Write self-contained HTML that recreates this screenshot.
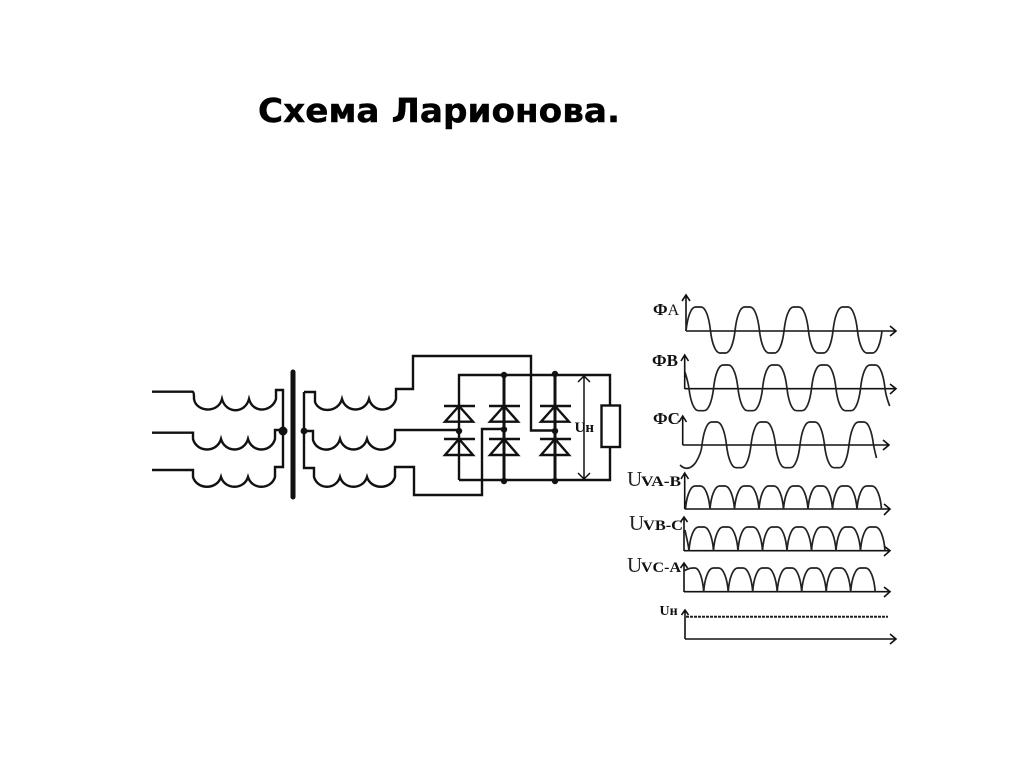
<!DOCTYPE html>
<html><head><meta charset="utf-8"><style>
html,body{margin:0;padding:0;background:#fff;width:1024px;height:767px;overflow:hidden}
svg{display:block}
.t{font-family:"DejaVu Sans","Liberation Sans",sans-serif;font-weight:bold;font-size:32.5px;fill:#000;stroke:#000;stroke-width:.4px}
.s{font-family:"Liberation Serif",serif;font-weight:bold;fill:#111}
.n{font-family:"Liberation Serif",serif;fill:#222}
</style></head><body>
<svg width="1024" height="767" viewBox="0 0 1024 767" xmlns="http://www.w3.org/2000/svg">
<rect width="1024" height="767" fill="#fff"/>
<text class="t" x="258" y="122" textLength="362" lengthAdjust="spacingAndGlyphs">Схема Ларионова.</text>

<g fill="none" stroke="#111" stroke-width="2.4">
<path d="M152 391.700H192.500C194 392 194 396 194 399C196 412 218 414 222 399C226 414 245 414 249 399C253 414 272 412 276 399V390H283V467H275V477C271 490 252 490 248 477C244 490 225 490 221 477C217 490 197 490 193 477V470H152"/>
<path d="M152 432.700H193V439C197 453 217 453 221 439C225 453 244 453 248 439C252 453 271 453 275 439V430H283"/>
<path d="M304 392V468H314V477C318 490 336 490 340 477C344 490 363 490 367 477C371 490 391 490 395 477V467H414V495H482V429H505"/>
<path d="M304 392H315V402C319 413 338 413 342 399C346 413 365 413 369 399C373 413 392 413 396 399V389H413V356H531V430.500H555"/>
<path d="M304 431H313V440C317 453 336 453 340 439C344 453 363 453 367 439C371 453 391 453 395 440V430H460"/>
<path d="M459 480V375H610V405M610 447V480H459"/>
<path d="M504 375V480M555 375V480" stroke-width="3"/>
<rect x="601.500" y="405.500" width="18.500" height="41.500"/>
<path d="M444 406H475M445 421.700H473L459 406ZM444 439H475M445 455H473L459 439Z"/>
<path d="M489 406H520M490 421.700H518L504 406ZM489 439H520M490 455H518L504 439Z"/>
<path d="M540 406H571M541 421.700H569L555 406ZM540 439H571M541 455H569L555 439Z"/>
<path d="M584 376V479M578 382L584 376L590 382M578 473L584 479L590 473" stroke-width="1.500"/>
</g>
<path d="M293 372V497" stroke="#111" stroke-width="5" stroke-linecap="round" fill="none"/>
<g fill="#111">
<circle cx="283" cy="431" r="4.500"/><circle cx="304" cy="431" r="3.400"/>
<circle cx="504" cy="375" r="3.200"/><circle cx="555" cy="374" r="3.200"/>
<circle cx="459" cy="431" r="3.200"/><circle cx="504" cy="429.500" r="3.200"/><circle cx="555" cy="431" r="3.200"/>
<circle cx="504" cy="481" r="3.200"/><circle cx="555" cy="481" r="3.200"/>
</g>
<text class="s" x="574.500" y="432" font-size="15">Uн</text>

<g fill="none" stroke="#111" stroke-width="1.600">
<path d="M686 331V296M682 301L686 295L690 301M686 331H896M890 326L896 331L890 336" />
<path d="M684.700 389V356M681 361L684.700 355L688.500 361M684.700 388.700H896M890 384L896 388.700L890 394"/>
<path d="M682.700 445V417M679 422L682.700 416L686.500 422M682.700 445H889M883 440L889 445L883 450"/>
<path d="M684.700 509V474M681 479L684.700 473L688.500 479M684.700 509H890M884 504L890 509L884 515"/>
<path d="M684 551V518M680.500 522L684 517L687.500 522M684 550.700H890M884 546L890 550.700L884 556"/>
<path d="M684 592V564M680.500 568L684 563L687.500 568M684 591.700H890M884 587L890 591.700L884 597"/>
<path d="M685 639V611M681.500 615L685 610L688.500 615M685 639H896M890 634L896 639L890 644"/>
</g>

<g fill="none" stroke="#222" stroke-width="1.700">
<path d="M686 331c1.500,-14 5,-24 9.500,-24h5.500c4.500,0 8,10 9.500,24c1.500,12.500 5,22 9.500,22h5.500c4.500,0 8,-9.500 9.500,-22c1.500,-14 5,-24 9.500,-24h5.500c4.500,0 8,10 9.500,24c1.500,12.500 5,22 9.500,22h5.500c4.500,0 8,-9.500 9.500,-22c1.500,-14 5,-24 9.500,-24h5.500c4.500,0 8,10 9.500,24c1.500,12.500 5,22 9.500,22h5.500c4.500,0 8,-9.500 9.500,-22c1.500,-14 5,-24 9.500,-24h5.500c4.500,0 8,10 9.500,24c1.500,12.500 5,22 9.500,22h5.500c4.500,0 8,-9.500 9.500,-22"/>
<path d="M685 372c1,4 3,9 4,16.700c1.500,12.500 5,22 9.500,22h5.500c4.500,0 8,-9.500 9.500,-22c1.500,-14 5,-23.700 9.500,-23.700h5.500c4.500,0 8,10 9.500,23.700c1.500,12.500 5,22 9.500,22h5.500c4.500,0 8,-9.500 9.500,-22c1.500,-14 5,-23.700 9.500,-23.700h5.500c4.500,0 8,10 9.500,23.700c1.500,12.500 5,22 9.500,22h5.500c4.500,0 8,-9.500 9.500,-22c1.500,-14 5,-23.700 9.500,-23.700h5.500c4.500,0 8,10 9.500,23.700c1.500,12.500 5,22 9.500,22h5.500c4.500,0 8,-9.500 9.500,-22c1.500,-14 5,-23.700 9.500,-23.700h5.500c4.500,0 8,10 9.500,23.700c1,7 3,13 4.700,17.300"/>
<path d="M680 465c6,6 12,3 16,-3c3,-5 5.500,-10 6,-17c1.500,-13 5,-23 9.500,-23h5.500c4.500,0 8,10 9.500,23c1.500,13 5,22.700 9.500,22.700h5.500c4.500,0 8,-9.700 9.500,-22.700c1.500,-13 5,-23 9.500,-23h5.500c4.500,0 8,10 9.500,23c1.500,13 5,22.700 9.500,22.700h5.500c4.500,0 8,-9.700 9.500,-22.700c1.500,-13 5,-23 9.500,-23h5.500c4.500,0 8,10 9.500,23c1.500,13 5,22.700 9.500,22.700h5.500c4.500,0 8,-9.700 9.500,-22.700c1.500,-13 5,-23 9.500,-23h5.500c4.500,0 8,10 9.500,23c1,5 2,9 3,13"/>
<path d="M685.500 509c1,-13 5,-23 9.500,-23h5.500c4.500,0 8.500,10 9.500,23c1,-13 5,-23 9.500,-23h5.500c4.500,0 8.500,10 9.500,23c1,-13 5,-23 9.500,-23h5.500c4.500,0 8.500,10 9.500,23c1,-13 5,-23 9.500,-23h5.500c4.500,0 8.500,10 9.500,23c1,-13 5,-23 9.500,-23h5.500c4.500,0 8.500,10 9.500,23c1,-13 5,-23 9.500,-23h5.500c4.500,0 8.500,10 9.500,23c1,-13 5,-23 9.500,-23h5.500c4.500,0 8.500,10 9.500,23c1,-13 5,-23 9.500,-23h5.500c4.500,0 8.500,10 9.500,23"/>
<path d="M685 530c1,6 3,12 4,20.700c1,-14 5,-23.700 9.500,-23.700h5.500c4.500,0 8.500,10 9.500,23.700c1,-14 5,-23.700 9.500,-23.700h5.500c4.500,0 8.500,10 9.500,23.700c1,-14 5,-23.700 9.500,-23.700h5.500c4.500,0 8.500,10 9.500,23.700c1,-14 5,-23.700 9.500,-23.700h5.500c4.500,0 8.500,10 9.500,23.700c1,-14 5,-23.700 9.500,-23.700h5.500c4.500,0 8.500,10 9.500,23.700c1,-14 5,-23.700 9.500,-23.700h5.500c4.500,0 8.500,10 9.500,23.700c1,-14 5,-23.700 9.500,-23.700h5.500c4.500,0 8.500,10 9.500,23.700c1,-14 5,-23.700 9.500,-23.700h5.500c4.500,0 8.500,10 9.500,23.700"/>
<path d="M684 571c3,-2 6,-3 9,-3h2c4,0 7.700,10 8.700,23.700c1,-14 5,-23.700 9.500,-23.700h5.500c4.500,0 8.500,10 9.500,23.700c1,-14 5,-23.700 9.500,-23.700h5.500c4.500,0 8.500,10 9.500,23.700c1,-14 5,-23.700 9.500,-23.700h5.500c4.500,0 8.500,10 9.500,23.700c1,-14 5,-23.700 9.500,-23.700h5.500c4.500,0 8.500,10 9.500,23.700c1,-14 5,-23.700 9.500,-23.700h5.500c4.500,0 8.500,10 9.500,23.700c1,-14 5,-23.700 9.500,-23.700h5.500c4.500,0 8.500,10 9.500,23.700c1,-14 5,-23.700 9.500,-23.700h5.500c4.500,0 8.500,10 9.500,23.700"/>
<path d="M686 616.700H888" stroke-dasharray="3 1" stroke-width="2"/>
</g>

<text class="s" x="653" y="315" font-size="17">Ф<tspan font-weight="normal" font-size="16">А</tspan></text>
<text class="s" x="652" y="366" font-size="17">ФB</text>
<text class="s" x="653" y="424" font-size="17">ФC</text>
<text class="n" x="627" y="486" font-size="21">U</text><text class="s" x="641" y="486" font-size="15" textLength="40" lengthAdjust="spacingAndGlyphs">VA-B</text>
<text class="n" x="629" y="530" font-size="21">U</text><text class="s" x="643" y="530" font-size="15" textLength="40" lengthAdjust="spacingAndGlyphs">VB-C</text>
<text class="n" x="627" y="572" font-size="21">U</text><text class="s" x="641" y="572" font-size="15" textLength="40" lengthAdjust="spacingAndGlyphs">VC-A</text>
<text class="s" x="659.500" y="615" font-size="14">Uн</text>
</svg>
</body></html>
